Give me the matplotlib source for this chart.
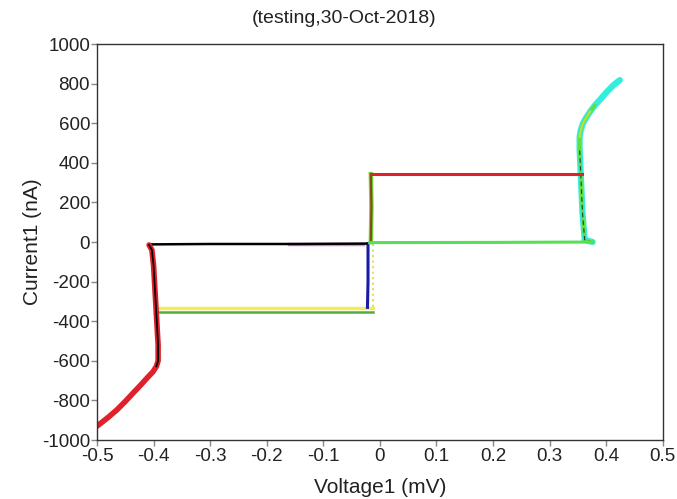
import matplotlib.pyplot as plt

plt.rcParams['font.family'] = ['Liberation Sans', 'DejaVu Sans']
plt.rcParams['axes.unicode_minus'] = False

# left branch (red, black overlay)
v_left = [-0.5, -0.48, -0.465, -0.45, -0.436, -0.422, -0.41, -0.401, -0.395, -0.392,
          -0.392, -0.394, -0.396, -0.398, -0.400, -0.403, -0.408]
i_left = [-930, -885, -848, -805, -762, -720, -682, -655, -628, -600,
          -520, -420, -320, -220, -120, -40, -15]

# lower plateau lines
v_black = [-0.408, -0.30, -0.15, -0.024]
i_black = [-12, -10, -10, -8]
v_pink = [-0.16, -0.03]
i_pink = [-8, -8]
v_yellow = [-0.394, -0.012]
i_yellow = [-333, -333]
v_green_lo = [-0.394, -0.012]
i_green_lo = [-352, -352]
v_blue = [-0.021, -0.021, -0.022]
i_blue = [-8, -200, -330]
v_ydot = [-0.012, -0.012]
i_ydot = [-10, -340]

# middle branch
v_mid = [-0.016, -0.015, -0.016]
i_mid = [0, 180, 343]
v_red = [-0.016, 0.357]
i_red = [343, 343]
v_green = [-0.018, 0.20, 0.376]
i_green = [-3, -2, 0]

# right branch (green / cyan)
v_right = [0.376, 0.362, 0.358, 0.355, 0.353, 0.353, 0.355, 0.359, 0.365, 0.372,
           0.380, 0.390, 0.400, 0.412, 0.424]
i_right = [0, 10, 150, 343, 470, 530, 565, 600, 630, 660,
           690, 722, 755, 790, 818]
n_green = 11

fig = plt.figure(figsize=(6.77, 4.99), dpi=100)
ax = fig.add_axes([0.1433, 0.1182, 0.8357, 0.7936])

ax.plot(v_right, i_right, color='#33eedd', lw=4.5, solid_capstyle='round')
ax.plot(v_right[:n_green], i_right[:n_green], color='#66dd33', lw=2.2)
ax.plot(v_right[5:10], i_right[5:10], color='#bbe040', lw=1.5)
ax.plot(v_right[:5], i_right[:5], color='#224422', lw=0.8, ls=(0, (4, 3)))
ax.plot(v_green_lo, i_green_lo, color='#55aa44', lw=1.8)
ax.plot(v_yellow, i_yellow, color='#eeee55', lw=2.5)
ax.plot(v_ydot, i_ydot, color='#e0e050', lw=1.5, ls=':')
ax.plot(v_blue, i_blue, color='#1a1aa8', lw=2.2)
ax.plot(v_pink, i_pink, color='#dd88dd', lw=2.5)
ax.plot(v_black, i_black, color='black', lw=1.8)
ax.plot(v_mid, i_mid, color='#66dd33', lw=3.2)
ax.plot(v_mid, i_mid, color='#8b4a1c', lw=1.6)
ax.plot(v_green, i_green, color='#55e055', lw=2.2)
ax.plot(v_red, i_red, color='#e0202a', lw=2.2)
ax.plot(v_left, i_left, color='#e0202a', lw=4.0, solid_capstyle='round')
ax.plot(v_left[8:], i_left[8:], color='black', lw=1.2)

ax.set_xlim(-0.5, 0.5)
ax.set_ylim(-1000, 1000)
ax.set_xticks([-0.5, -0.4, -0.3, -0.2, -0.1, 0, 0.1, 0.2, 0.3, 0.4, 0.5])
ax.set_xticklabels(['-0.5', '-0.4', '-0.3', '-0.2', '-0.1', '0', '0.1', '0.2', '0.3', '0.4', '0.5'])
ax.set_yticks(range(-1000, 1001, 200))
ax.tick_params(direction='out', length=4, width=1, color='#888888', labelsize=13.5,
               labelcolor='#222222')
ax.tick_params(axis='y', pad=1)
ax.tick_params(axis='x', pad=2)
for s in ax.spines.values():
    s.set_color('#333333')
    s.set_linewidth(1.0)

ax.set_xlabel('Voltage1 (mV)', fontsize=15, labelpad=9, color='#222222')
ax.set_ylabel('Current1 (nA)', fontsize=15, labelpad=0, color='#222222')
fig.text(0.508, 0.963, '(testing,30-Oct-2018)', fontsize=14, color='#222222',
         ha='center', va='center')

fig.savefig('out.png', dpi=100)
